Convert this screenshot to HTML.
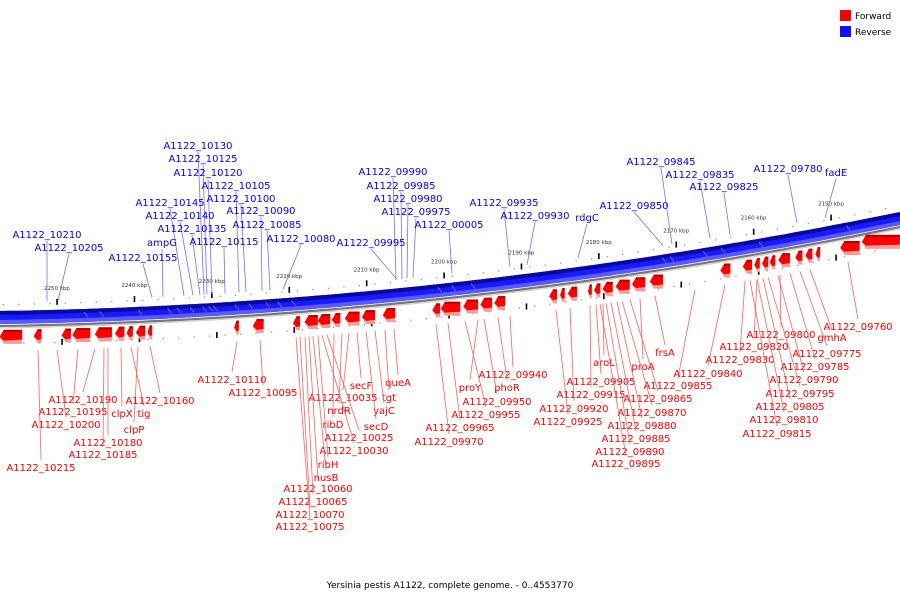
<!DOCTYPE html>
<html><head><meta charset="utf-8">
<style>
html,body{margin:0;padding:0;background:#fff;}
svg{display:block;font-family:"DejaVu Sans","Liberation Sans",sans-serif;}
</style></head>
<body>
<svg id="chart" width="900" height="600" viewBox="0 0 900 600">
  <g>
    <rect x="840" y="10" width="11" height="11" fill="#ff0000"/>
    <text x="855" y="19" font-size="9" fill="#000">Forward</text>
    <rect x="840" y="26" width="11" height="11" fill="#1010ff"/>
    <text x="855" y="35" font-size="9" fill="#000">Reverse</text>
  </g>
  <text x="450" y="588" font-size="9" text-anchor="middle" fill="#000">Yersinia pestis A1122, complete genome. - 0..4553770</text>
</svg>
<script>
// ---- data ----
const tickKbp = [2250, 2240, 2230, 2220, 2210, 2200, 2190, 2180, 2170, 2160, 2150];
const tickLabels = ["2250 kbp","2240 kbp","2230 kbp","2220 kbp","2210 kbp","2200 kbp","2190 kbp","2180 kbp","2170 kbp","2160 kbp","2150 kbp"];
const geneStart = [2257.4,2253.0,2249.4,2248.0,2245.1,2242.5,2241.0,2239.8,2238.3,2227.1,2224.7,2219.5,2218.0,2216.3,2214.5,2212.8,2210.6,2207.9,2201.5,2200.4,2197.5,2195.3,2193.5,2186.4,2185.0,2184.0,2181.4,2180.6,2179.5,2177.8,2175.7,2173.4,2164.3,2161.4,2159.9,2158.9,2157.9,2156.8,2154.6,2153.3,2152.0,2148.8,2146.0];
const geneEnd   = [2254.5,2252.0,2248.2,2245.7,2242.9,2241.3,2240.2,2238.6,2237.7,2226.5,2223.3,2218.6,2216.3,2214.7,2213.4,2210.9,2208.9,2206.3,2200.5,2197.9,2195.6,2193.8,2192.1,2185.4,2184.4,2182.8,2180.9,2179.8,2178.2,2176.0,2174.0,2171.7,2163.0,2160.2,2159.2,2158.1,2157.2,2155.3,2153.7,2152.4,2151.4,2146.3,2141.1];
const blueSeg = [2246.5,2244.5,2239.5,2235.7,2234.5,2232.8,2231.2,2230.4,2229.8,2227.0,2225.2,2223.0,2221.5,2219.7,2200.8,2199.0,2196.5,2171.8,2170.8,2166.5,2164.2,2159.3,2148.0];
const blueLabels = [
 ["A1122_10130",198,149,204],["A1122_10125",203,162,207],["A1122_10120",208,176,212],
 ["A1122_10105",236,189,239],["A1122_10145",170,206,184],["A1122_10100",241,202,246],
 ["A1122_10140",180,219,193],["A1122_10090",261,214,262],["A1122_10135",192,232,200],
 ["A1122_10085",267,228,270],["A1122_10210",47,238,47],["A1122_10205",69,251,58],
 ["ampG",162,246,163],["A1122_10115",224,245,225],["A1122_10080",301,242,283],
 ["A1122_10155",143,261,152],["A1122_09990",393,175,396],["A1122_09985",401,189,402],
 ["A1122_09980",408,202,407],["A1122_09975",416,215,413],["A1122_00005",449,228,452],
 ["A1122_09995",371,246,397],["A1122_09935",504,206,510],["A1122_09930",535,219,527],
 ["rdgC",587,221,578],["A1122_09850",634,209,663],["A1122_09845",661,165,672],
 ["A1122_09835",700,178,710],["A1122_09825",724,190,730],["A1122_09780",788,172,797],
 ["fadE",836,176,825]
];
const redLabels = [
 ["A1122_10110",232,383,237],["A1122_10095",263,396,260],["A1122_10190",83,403,95],
 ["A1122_10195",73,415,78],["A1122_10200",66,428,57],["A1122_10180",108,446,108],
 ["A1122_10185",103,458,104],["A1122_10215",41,471,38],["clpX",122,417,121],
 ["tig",144,417,131],["clpP",134,433,138],["A1122_10160",160,404,150],
 ["queA",398,386,394],["secF",361,389,357],["tgt",389,401,385],["A1122_10035",343,401,349],
 ["nrdR",339,414,342],["yajC",384,414,375],["ribD",333,428,334],["secD",376,430,366],
 ["A1122_10025",359,441,327],["A1122_10030",354,454,322],["ribH",328,468,318],
 ["nusB",326,481,313],["A1122_10060",318,492,309],["A1122_10065",313,505,305],
 ["A1122_10070",310,518,300],["A1122_10075",310,530,296],
 ["A1122_09940",513,378,510],["proY",470,391,478],["phoR",507,391,498],
 ["A1122_09950",497,405,484],["A1122_09955",486,418,465],["A1122_09965",460,431,448],
 ["A1122_09970",449,445,436],["aroL",604,366,603],["frsA",665,356,655],["proA",643,370,640],
 ["A1122_09905",601,385,596],["A1122_09915",591,398,590],["A1122_09920",574,412,570],
 ["A1122_09925",568,425,556],["A1122_09855",678,389,695],["A1122_09865",658,402,630],
 ["A1122_09870",652,416,622],["A1122_09880",642,429,617],["A1122_09885",636,442,611],
 ["A1122_09890",630,455,606],["A1122_09895",626,467,600],["A1122_09840",708,377,725],
 ["A1122_09830",740,363,745],["A1122_09820",754,350,757],["A1122_09800",781,338,780],
 ["gmhA",832,341,810],["A1122_09760",858,330,848],["A1122_09775",827,357,800],
 ["A1122_09785",815,370,790],["A1122_09790",804,383,778],["A1122_09795",800,397,768],
 ["A1122_09805",790,410,763],["A1122_09810",784,423,757],["A1122_09815",777,437,750]
];
function xOf(kbp){ return (2257.36 - kbp) * 7.74; }
function yTop(x){ return 311 - 0.015*x - 1.056e-4*x*x; }
const NS = "http://www.w3.org/2000/svg";
const svgEl = document.getElementById('chart');
function mk(tag, attrs, parent){
  const e = document.createElementNS(NS, tag);
  for (const k in attrs) e.setAttribute(k, attrs[k]);
  (parent||svgEl).appendChild(e); return e;
}
function edge(off){ const p=[]; for (let x=-5;x<=905;x+=5) p.push(x+','+(yTop(x)+off).toFixed(1)); return p; }
const band = mk('g', {});


const e0 = edge(0), e4 = edge(4), e9 = edge(9), e13 = edge(13);
mk('polygon', {points: e0.concat(e13.slice().reverse()).join(' '), fill: '#1a1aff'}, band);
mk('polygon', {points: e0.concat(e4.slice().reverse()).join(' '), fill: '#0a0a9a'}, band);
mk('polygon', {points: e9.concat(e13.slice().reverse()).join(' '), fill: '#5a5aff'}, band);
for (const k of blueSeg) {
  const x = xOf(k);
  mk('line', {x1:x, y1:yTop(x)+3, x2:x+4, y2:yTop(x)+8, stroke:'#8080ff', 'stroke-width':0.8}, band);
}
mk('polyline', {points: edge(15).join(' '), fill:'none', stroke:'#777', 'stroke-width':2.2}, band);
mk('polyline', {points: edge(17).join(' '), fill:'none', stroke:'#ccc', 'stroke-width':1}, band);
for (let i = 0; i < tickKbp.length; i++) {
  const x = xOf(tickKbp[i]);
  const y = yTop(x);
  const t = mk('text', {x: x, y: y - 20, 'font-size': 5.5, 'text-anchor': 'middle', fill: '#333'});
  t.textContent = tickLabels[i];
  
  
  mk('rect', {x: x-0.7, y: y-11, width: 1.6, height: 6, fill: '#000'});
  mk('rect', {x: x-0.7+5, y: y+29, width: 1.6, height: 6, fill: '#000'});
}
for (let k = 2257; k >= 2141; k -= 2) {
  const x = xOf(k), y = yTop(x);
  mk('rect', {x: x, y: y-7, width: 1.2, height: 1.2, fill: '#888'});
  mk('rect', {x: x+5, y: y+32, width: 1.2, height: 1.2, fill: '#888'});
}
for (let i = 0; i < geneStart.length; i++) {
  const a = xOf(geneStart[i]), b = xOf(geneEnd[i]);
  const xl = Math.min(a, b), xr = Math.max(a, b);
  const w = xr - xl;
  const head = Math.min(4, w*0.5);
  const y0 = yTop((xl+xr)/2) + 19, h = 14;
  const g = mk('g', {});
  
  
  mk('polygon', {points: `${xl},${y0+h/2} ${xl+head},${y0} ${xr},${y0} ${xr},${y0+h} ${xl+head},${y0+h}`, fill:'#ff9a9a'}, g);
  mk('polygon', {points: `${xl},${y0+h/2} ${xl+head},${y0} ${xr},${y0} ${xr},${y0+h*0.7} ${xl+head},${y0+h*0.7+1}`, fill:'#ff0000'}, g);
  mk('polygon', {points: `${xl+head},${y0} ${xr},${y0} ${xr},${y0+2} ${xl+head},${y0+2}`, fill:'#b00000'}, g);
}
for (const L of blueLabels) {
  const [txt, x, y, tx] = L;
  mk('line', {x1: x, y1: y+3, x2: tx, y2: yTop(tx)-9, stroke:'#7070ff', 'stroke-width':0.8});
  const t = mk('text', {x: x, y: y, 'font-size': 10, 'text-anchor': 'middle', fill: '#0000ff'});
  t.textContent = txt;
  
  
}
for (const L of redLabels) {
  const [txt, x, y, tx] = L;
  mk('line', {x1: x, y1: y-11, x2: tx, y2: yTop(tx)+40, stroke:'#ff6060', 'stroke-width':0.8});
  const t = mk('text', {x: x, y: y, 'font-size': 10, 'text-anchor': 'middle', fill: '#ff0000'});
  t.textContent = txt;
  
  
}
</script>
</body></html>
